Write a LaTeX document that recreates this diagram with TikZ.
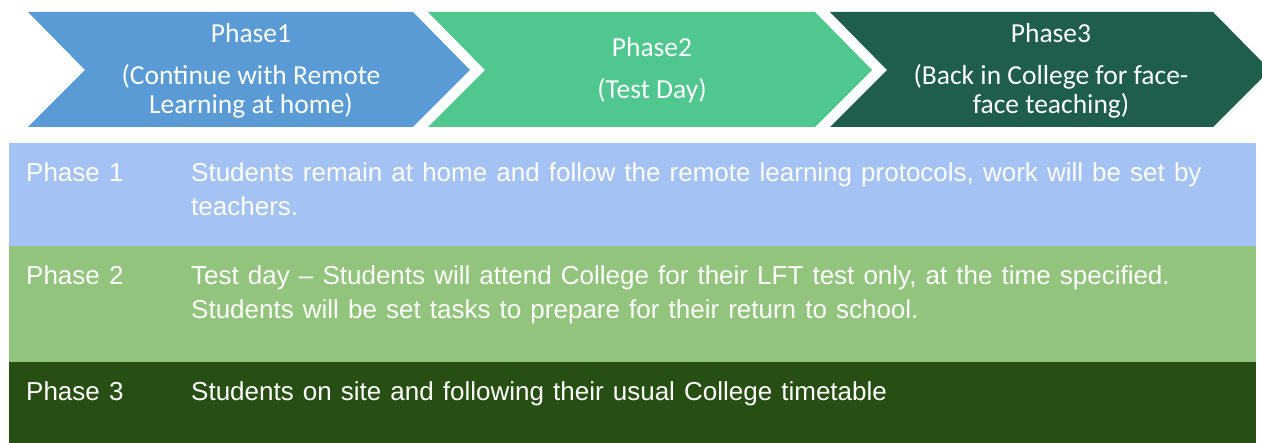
\documentclass[tikz,border=0pt]{standalone}
\usepackage{fontspec}
\setmainfont{Liberation Sans}
\newfontfamily\chevfont{Carlito}
\newfontfamily\cellfont[WordSpace=1.26]{Liberation Sans}
\definecolor{chevA}{HTML}{5B9BD5}
\definecolor{chevB}{HTML}{4FC78F}
\definecolor{chevC}{HTML}{1E5E4B}
\definecolor{rowA}{HTML}{A4C2F4}
\definecolor{rowB}{HTML}{93C47D}
\definecolor{rowC}{HTML}{274E13}
\tikzset{
  chevtext/.style={text=white, align=center, font=\chevfont\fontsize{27.5}{29}\selectfont, inner sep=0pt},
  celltext/.style={text=white, anchor=base west, align=left, font=\cellfont\fontsize{26}{34}\selectfont, inner sep=0pt},
}
\begin{document}
\begin{tikzpicture}[x=1pt,y=-1pt]
\useasboundingbox (0,0) rectangle (1262,443);
% chevrons
\fill[chevA] (28,12) -- (413,12) -- (470,70) -- (413,127) -- (28,127) -- (85,70) -- cycle;
\fill[chevB] (428,12) -- (815,12) -- (872,70) -- (815,127) -- (428,127) -- (485,70) -- cycle;
\fill[chevC] (830,12) -- (1213,12) -- (1270,70) -- (1213,127) -- (830,127) -- (887,70) -- cycle;
\node[chevtext] (p1t) at (251,33) {Phase1};
\node[chevtext] (p1s) at (251,91) {(Continue with Remote\\Learning at home)};
\node[chevtext] (p2t) at (652,47) {Phase2};
\node[chevtext] (p2s) at (652,91) {(Test Day)};
\node[chevtext] (p3t) at (1051,33) {Phase3};
\node[chevtext] (p3s) at (1051,91) {(Back in College for face-\\face teaching)};
% table rows
\fill[rowA] (9,143) rectangle (1256,246);
\fill[rowB] (9,246) rectangle (1256,362);
\fill[rowC] (9,362) rectangle (1256,443);
\node[celltext] (r1a) at (26,182) {Phase 1};
\node[celltext] (r1b) at (191,216) {Students remain at home and follow the remote learning protocols, work will be set by\\teachers.};
\node[celltext] (r2a) at (26,285) {Phase 2};
\node[celltext] (r2b) at (191,319) {Test day – Students will attend College for their LFT test only, at the time specified.\\Students will be set tasks to prepare for their return to school.};
\node[celltext] (r3a) at (26,401) {Phase 3};
\node[celltext] (r3b) at (191,401) {Students on site and following their usual College timetable};
\end{tikzpicture}
\end{document}
